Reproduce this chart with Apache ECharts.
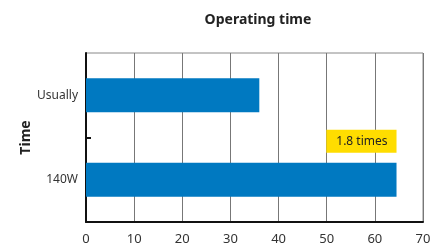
<!DOCTYPE html>
<html>
<head>
<meta charset="utf-8">
<script src="https://cdn.jsdelivr.net/npm/echarts@6/dist/echarts.min.js"></script>
<style>
  html, body { margin: 0; padding: 0; background: #fff; }
  #chart { width: 443px; height: 247px; }
</style>
</head>
<body>
<div id="chart"></div>
<script>
// top to bottom (y axis is inverted)
var categories = ['Usually', '140W'];
var hours = [36, 64.5];
var ratioText = '1.8 times';
var xTicks = [0, 10, 20, 30, 40, 50, 60, 70];

var font = '"Noto Sans", sans-serif';

var chart = echarts.init(document.getElementById('chart'));

var option = {
  animation: false,
  title: {
    text: 'Operating time',
    left: 253,
    textAlign: 'center',
    top: 8,
    textStyle: { fontFamily: font, fontSize: 14, fontWeight: 'bold', color: '#222' }
  },
  grid: {
    left: 86,
    right: 20,
    top: 53,
    bottom: 25,
    show: true,
    borderColor: '#888',
    borderWidth: 1
  },
  xAxis: {
    type: 'value',
    min: xTicks[0],
    max: xTicks[xTicks.length - 1],
    interval: 10,
    axisLine: { show: true, lineStyle: { color: '#111', width: 2 } },
    axisTick: { show: false },
    splitLine: { show: true, lineStyle: { color: '#777', width: 1 } },
    axisLabel: { color: '#333', fontFamily: font, fontSize: 13, margin: 11 }
  },
  yAxis: [{
    type: 'category',
    inverse: true,
    data: categories,
    name: 'Time',
    nameLocation: 'middle',
    nameGap: 53,
    nameMoveOverlap: false,
    nameTextStyle: { fontFamily: font, fontSize: 14, fontWeight: 'bold', color: '#222' },
    axisLine: { show: true, lineStyle: { color: '#111', width: 2 } },
    axisTick: { show: false },
    splitLine: { show: false },
    axisLabel: { color: '#333', fontFamily: font, fontSize: 12, margin: 8 }
  }, {
    // only carries the single tick between the two categories
    type: 'value',
    position: 'left',
    min: 0,
    max: categories.length,
    axisLine: { show: false },
    axisLabel: { show: false },
    splitLine: { show: false },
    axisTick: {
      show: true,
      inside: true,
      length: 5,
      customValues: [1],
      lineStyle: { color: '#111', width: 2 }
    }
  }],
  series: [{
    type: 'bar',
    barWidth: '40%',
    itemStyle: { color: '#0079C1' },
    data: hours.map(function (v, i) {
      if (categories[i] === '140W') {
        return {
          value: v,
          label: {
            show: true,
            formatter: ratioText,
            position: ['100%', 0],
            align: 'right',
            verticalAlign: 'bottom',
            offset: [0, -10],
            backgroundColor: '#FFDD00',
            padding: [6, 9, 5, 10],
            color: '#222',
            fontFamily: font,
            fontSize: 12
          }
        };
      }
      return v;
    })
  }]
};

chart.setOption(option);
</script>
</body>
</html>
